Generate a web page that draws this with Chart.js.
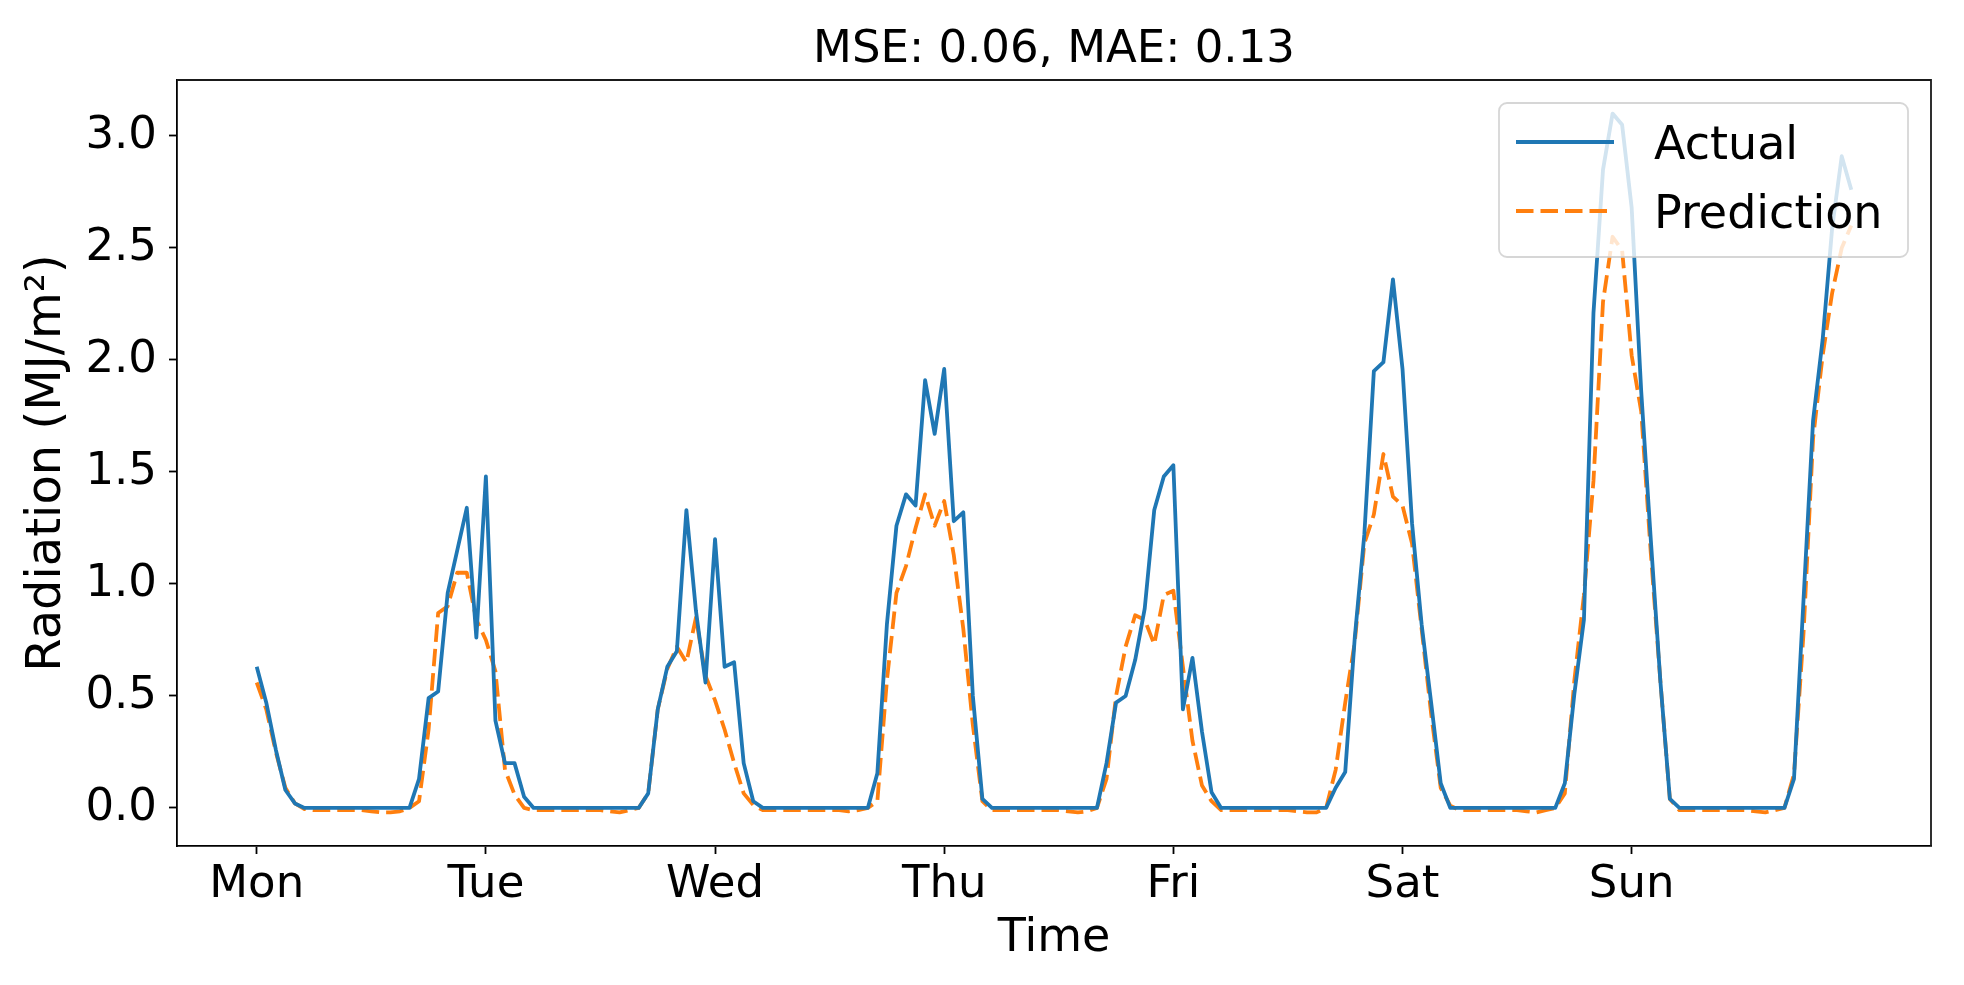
<!DOCTYPE html>
<html>
<head>
<meta charset="utf-8">
<script src="https://cdn.jsdelivr.net/npm/chart.js@4.4.1/dist/chart.umd.min.js"></script>
<style>
html,body{margin:0;padding:0;background:#ffffff;overflow:hidden;}
#wrap{width:1964px;height:985px;position:relative;}
canvas{display:block;}
</style>
</head>
<body>
<div id="wrap"><canvas id="c" width="1964" height="985"></canvas></div>
<script>
// ---------------- data ----------------
const chartTitle = 'MSE: 0.06, MAE: 0.13';
const xTitle = 'Time';
const yTitle = 'Radiation (MJ/m\u00B2)';
const seriesNames = ['Actual', 'Prediction'];
const dayLabels = ['Mon', 'Tue', 'Wed', 'Thu', 'Fri', 'Sat', 'Sun'];
const tickHours = [0, 24, 48, 72, 96, 120, 144];
const yTickValues = [0.0, 0.5, 1.0, 1.5, 2.0, 2.5, 3.0];

// hourly values, index 0 = Mon tick
const actual = [
  0.63, 0.47, 0.26, 0.08, 0.02, 0, 0, 0, 0, 0, 0, 0, 0, 0, 0, 0, 0,
  0.13, 0.49, 0.52, 0.96, 1.15, 1.34, 0.76, 1.48, 0.39, 0.20, 0.20, 0.05,
  0, 0, 0, 0, 0, 0, 0, 0, 0, 0, 0, 0,
  0.065, 0.44, 0.63, 0.70, 1.33, 0.88, 0.56, 1.20, 0.63, 0.65, 0.20, 0.03,
  0, 0, 0, 0, 0, 0, 0, 0, 0, 0, 0, 0,
  0.155, 0.82, 1.26, 1.40, 1.35, 1.91, 1.67, 1.96, 1.28, 1.32, 0.50, 0.04,
  0, 0, 0, 0, 0, 0, 0, 0, 0, 0, 0, 0,
  0.20, 0.47, 0.50, 0.66, 0.89, 1.33, 1.48, 1.53, 0.44, 0.67, 0.34, 0.07,
  0, 0, 0, 0, 0, 0, 0, 0, 0, 0, 0, 0,
  0.09, 0.16, 0.76, 1.22, 1.95, 1.99, 2.36, 1.96, 1.27, 0.82, 0.47, 0.11,
  0, 0, 0, 0, 0, 0, 0, 0, 0, 0, 0, 0,
  0.11, 0.51, 0.84, 2.21, 2.85, 3.10, 3.05, 2.68, 1.86, 1.20, 0.57, 0.04,
  0, 0, 0, 0, 0, 0, 0, 0, 0, 0, 0, 0,
  0.13, 0.93, 1.73, 2.09, 2.59, 2.91, 2.76
];

const prediction = [
  0.56, 0.44, 0.25, 0.09, 0.02, -0.005, -0.01, -0.01, -0.01, -0.01, -0.01, -0.01, -0.015, -0.02, -0.02, -0.015, 0.0,
  0.03, 0.35, 0.87, 0.90, 1.05, 1.05, 0.84, 0.75, 0.61, 0.17, 0.06, 0.0,
  -0.01, -0.01, -0.01, -0.01, -0.01, -0.01, -0.01, -0.01, -0.015, -0.02, -0.01, 0.0,
  0.065, 0.44, 0.62, 0.72, 0.65, 0.85, 0.59, 0.48, 0.35, 0.20, 0.065, 0.013,
  -0.01, -0.01, -0.01, -0.01, -0.01, -0.01, -0.01, -0.01, -0.01, -0.015, -0.01, 0.0,
  0.03, 0.57, 0.96, 1.08, 1.25, 1.40, 1.26, 1.37, 1.13, 0.80, 0.37, 0.03,
  -0.01, -0.01, -0.01, -0.01, -0.01, -0.01, -0.01, -0.01, -0.015, -0.02, -0.015, 0.0,
  0.13, 0.50, 0.72, 0.86, 0.84, 0.73, 0.95, 0.97, 0.63, 0.30, 0.10, 0.03,
  -0.01, -0.01, -0.01, -0.01, -0.01, -0.01, -0.01, -0.01, -0.015, -0.02, -0.02, 0.0,
  0.17, 0.47, 0.74, 1.18, 1.31, 1.58, 1.39, 1.35, 1.18, 0.80, 0.42, 0.09,
  0.01, -0.01, -0.01, -0.01, -0.01, -0.01, -0.01, -0.01, -0.015, -0.02, -0.01, 0.0,
  0.065, 0.57, 0.95, 1.46, 2.26, 2.55, 2.49, 2.02, 1.77, 1.14, 0.57, 0.04,
  -0.01, -0.01, -0.01, -0.01, -0.01, -0.01, -0.01, -0.01, -0.015, -0.02, -0.01, 0.0,
  0.15, 0.78, 1.65, 2.02, 2.30, 2.50, 2.60
];

// ---------------- styling ----------------
const FONT = "'DejaVu Sans', 'Liberation Sans', sans-serif";
const BLUE = '#1f77b4';
const ORANGE = '#ff7f0e';
const DASH = [17.5, 7];
const LW = 3.8;

const toPoints = arr => arr.map((v, i) => ({ x: i, y: v }));
const nPts = actual.length;
const xMargin = (nPts - 1) * 0.05;

// frame (top & right spines)
const framePlugin = {
  id: 'frame',
  afterDatasetsDraw(chart) {
    const { ctx, chartArea: a } = chart;
    ctx.save();
    ctx.strokeStyle = '#1a1a1a';
    ctx.lineWidth = 1.8;
    ctx.beginPath();
    ctx.moveTo(a.left, a.top);
    ctx.lineTo(a.right, a.top);
    ctx.lineTo(a.right, a.bottom);
    ctx.stroke();
    ctx.restore();
  }
};

// matplotlib-style legend inside upper right
const legendPlugin = {
  id: 'mplLegend',
  afterDatasetsDraw(chart) {
    const { ctx, chartArea: a } = chart;
    const w = 409, h = 154;
    const x = a.right - 23 - w, y = a.top + 23;
    const r = 8;
    ctx.save();
    ctx.beginPath();
    ctx.moveTo(x + r, y);
    ctx.lineTo(x + w - r, y);
    ctx.arcTo(x + w, y, x + w, y + r, r);
    ctx.lineTo(x + w, y + h - r);
    ctx.arcTo(x + w, y + h, x + w - r, y + h, r);
    ctx.lineTo(x + r, y + h);
    ctx.arcTo(x, y + h, x, y + h - r, r);
    ctx.lineTo(x, y + r);
    ctx.arcTo(x, y, x + r, y, r);
    ctx.closePath();
    ctx.fillStyle = 'rgba(255,255,255,0.8)';
    ctx.fill();
    ctx.strokeStyle = 'rgba(204,204,204,0.8)';
    ctx.lineWidth = 1.8;
    ctx.stroke();

    const rows = [39, 108];
    chart.data.datasets.forEach((ds, k) => {
      const yy = y + rows[k];
      ctx.beginPath();
      ctx.setLineDash(ds.borderDash || []);
      ctx.lineDashOffset = 0;
      ctx.strokeStyle = ds.borderColor;
      ctx.lineWidth = ds.borderWidth;
      ctx.moveTo(x + 17, yy);
      ctx.lineTo(x + 115, yy);
      ctx.stroke();
      ctx.setLineDash([]);
      ctx.fillStyle = '#000';
      ctx.font = '46px ' + FONT;
      ctx.textBaseline = 'middle';
      ctx.textAlign = 'left';
      ctx.fillText(ds.label, x + 155, yy + 5);
    });
    ctx.restore();
  }
};

new Chart(document.getElementById('c'), {
  type: 'line',
  data: {
    datasets: [
      {
        label: seriesNames[0],
        data: toPoints(actual),
        borderColor: BLUE,
        backgroundColor: BLUE,
        borderWidth: LW,
        pointRadius: 0,
        tension: 0,
        fill: false,
        borderJoinStyle: 'round',
        borderCapStyle: 'butt'
      },
      {
        label: seriesNames[1],
        data: toPoints(prediction),
        borderColor: ORANGE,
        backgroundColor: ORANGE,
        borderWidth: LW,
        borderDash: DASH,
        pointRadius: 0,
        tension: 0,
        fill: false,
        borderJoinStyle: 'round',
        borderCapStyle: 'butt'
      }
    ]
  },
  options: {
    responsive: false,
    animation: false,
    devicePixelRatio: 1,
    layout: { padding: { left: 0, right: 33, top: 0, bottom: 0 } },
    plugins: {
      legend: { display: false },
      tooltip: { enabled: false },
      title: {
        display: true,
        fullSize: false,
        text: chartTitle,
        color: '#000',
        font: { family: FONT, size: 45, weight: 'normal', lineHeight: 1.2 },
        padding: { top: 23, bottom: 3 }
      }
    },
    scales: {
      x: {
        type: 'linear',
        min: -xMargin,
        max: (nPts - 1) + xMargin,
        afterFit(s) { s.height = 139; },
        afterBuildTicks(s) { s.ticks = tickHours.map(v => ({ value: v })); },
        ticks: {
          autoSkip: false,
          maxRotation: 0,
          minRotation: 0,
          padding: 4,
          color: '#000',
          font: { family: FONT, size: 45, lineHeight: 1.2 },
          callback: (v) => dayLabels[tickHours.indexOf(v)]
        },
        grid: {
          drawOnChartArea: false,
          drawTicks: true,
          tickLength: 8,
          tickWidth: 1.8,
          tickColor: '#000'
        },
        border: { display: true, color: '#000', width: 1.8 },
        title: {
          display: true,
          text: xTitle,
          color: '#000',
          font: { family: FONT, size: 46, lineHeight: 1.2 },
          padding: { top: 0, bottom: 18 }
        }
      },
      y: {
        type: 'linear',
        min: -0.17,
        max: 3.25,
        afterFit(s) { s.width = 177; },
        afterBuildTicks(s) { s.ticks = yTickValues.map(v => ({ value: v })); },
        ticks: {
          padding: 12,
          color: '#000',
          font: { family: FONT, size: 45, lineHeight: 1.2 },
          callback: (v) => Number(v).toFixed(1)
        },
        grid: {
          drawOnChartArea: false,
          drawTicks: true,
          tickLength: 8,
          tickWidth: 1.8,
          tickColor: '#000'
        },
        border: { display: true, color: '#000', width: 1.8 },
        title: {
          display: true,
          text: yTitle,
          color: '#000',
          font: { family: FONT, size: 48, lineHeight: 1.2 },
          padding: { top: 19, bottom: 0 }
        }
      }
    }
  },
  plugins: [framePlugin, legendPlugin]
});
</script>
</body>
</html>
